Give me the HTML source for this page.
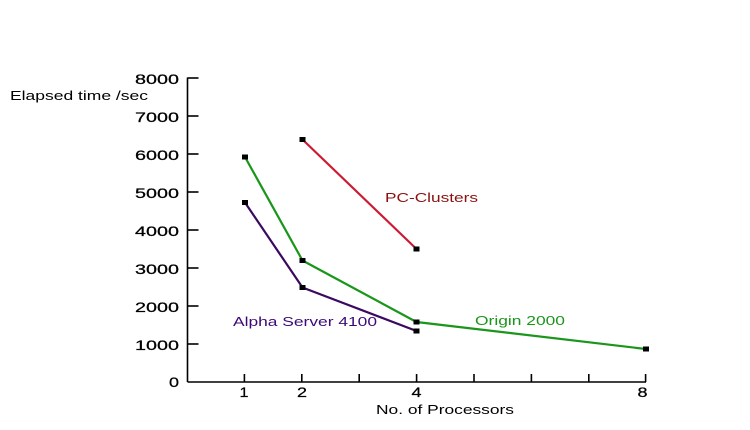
<!DOCTYPE html>
<html>
<head>
<meta charset="utf-8">
<style>
html,body{margin:0;padding:0;background:#fff;}
svg{display:block;}
text{font-family:"Liberation Sans",Arial,sans-serif;}
</style>
</head>
<body>
<svg width="750" height="430" viewBox="0 0 750 430" xmlns="http://www.w3.org/2000/svg">
<rect width="750" height="430" fill="#fff"/>
<!-- axes -->
<g stroke="#000" stroke-width="1.6" fill="none">
<line x1="187.5" y1="77.5" x2="187.5" y2="382"/>
<line x1="187.5" y1="382" x2="646" y2="382"/>
<line x1="187.5" y1="78" x2="198.5" y2="78"/>
<line x1="187.5" y1="116" x2="198.5" y2="116"/>
<line x1="187.5" y1="154" x2="198.5" y2="154"/>
<line x1="187.5" y1="192" x2="198.5" y2="192"/>
<line x1="187.5" y1="230" x2="198.5" y2="230"/>
<line x1="187.5" y1="268" x2="198.5" y2="268"/>
<line x1="187.5" y1="306" x2="198.5" y2="306"/>
<line x1="187.5" y1="344" x2="198.5" y2="344"/>
<line x1="244.4" y1="374" x2="244.4" y2="382"/>
<line x1="301.8" y1="374" x2="301.8" y2="382"/>
<line x1="359.2" y1="374" x2="359.2" y2="382"/>
<line x1="416.6" y1="374" x2="416.6" y2="382"/>
<line x1="474" y1="374" x2="474" y2="382"/>
<line x1="531.4" y1="374" x2="531.4" y2="382"/>
<line x1="588.8" y1="374" x2="588.8" y2="382"/>
<line x1="645.6" y1="374" x2="645.6" y2="382"/>
</g>
<!-- y labels -->
<g font-size="14" fill="#000" stroke="#000" stroke-width="0.25" text-anchor="end">
<text x="179" y="84" textLength="44" lengthAdjust="spacingAndGlyphs">8000</text>
<text x="179" y="122" textLength="44" lengthAdjust="spacingAndGlyphs">7000</text>
<text x="179" y="160" textLength="44" lengthAdjust="spacingAndGlyphs">6000</text>
<text x="179" y="198" textLength="44" lengthAdjust="spacingAndGlyphs">5000</text>
<text x="179" y="236" textLength="44" lengthAdjust="spacingAndGlyphs">4000</text>
<text x="179" y="274" textLength="44" lengthAdjust="spacingAndGlyphs">3000</text>
<text x="179" y="312" textLength="44" lengthAdjust="spacingAndGlyphs">2000</text>
<text x="179" y="350" textLength="44" lengthAdjust="spacingAndGlyphs">1000</text>
<text x="179" y="387" textLength="10" lengthAdjust="spacingAndGlyphs">0</text>
</g>
<!-- x labels -->
<g font-size="14" fill="#000" stroke="#000" stroke-width="0.25">
<text x="239.5" y="397" textLength="9" lengthAdjust="spacingAndGlyphs">1</text>
<text x="297" y="397" textLength="10" lengthAdjust="spacingAndGlyphs">2</text>
<text x="411.5" y="397" textLength="10" lengthAdjust="spacingAndGlyphs">4</text>
<text x="637.5" y="397" textLength="10" lengthAdjust="spacingAndGlyphs">8</text>
</g>
<text x="376" y="414" font-size="13" fill="#000" textLength="138" lengthAdjust="spacingAndGlyphs">No. of Processors</text>
<text x="10" y="100" font-size="13" fill="#000" textLength="138" lengthAdjust="spacingAndGlyphs">Elapsed time /sec</text>
<!-- series -->
<polyline points="245,202.5 302.5,287.5 416.5,331" fill="none" stroke="#3a0a5e" stroke-width="2.2"/>
<polyline points="245,157 302.5,260.5 416.5,322 646,349" fill="none" stroke="#1a961a" stroke-width="2.2"/>
<polyline points="302.5,139.5 416.5,249" fill="none" stroke="#cc1a33" stroke-width="2.2"/>
<!-- markers -->
<g fill="#000">
<rect x="242" y="200" width="6" height="5"/>
<rect x="299.5" y="285" width="6" height="5"/>
<rect x="413.5" y="328.5" width="6" height="5"/>
<rect x="242" y="154.5" width="6" height="5"/>
<rect x="299.5" y="258" width="6" height="5"/>
<rect x="413.5" y="319.5" width="6" height="5"/>
<rect x="643" y="346.5" width="6" height="5"/>
<rect x="299.5" y="137" width="6" height="5"/>
<rect x="413.5" y="246.5" width="6" height="5"/>
</g>
<!-- series labels -->
<text x="385" y="202" font-size="13" fill="#8b1010" textLength="93" lengthAdjust="spacingAndGlyphs">PC-Clusters</text>
<text x="475" y="325" font-size="13" fill="#1a961a" textLength="90" lengthAdjust="spacingAndGlyphs">Origin 2000</text>
<text x="233" y="326" font-size="13" fill="#3c0a78" textLength="144" lengthAdjust="spacingAndGlyphs">Alpha Server 4100</text>
</svg>
</body>
</html>
